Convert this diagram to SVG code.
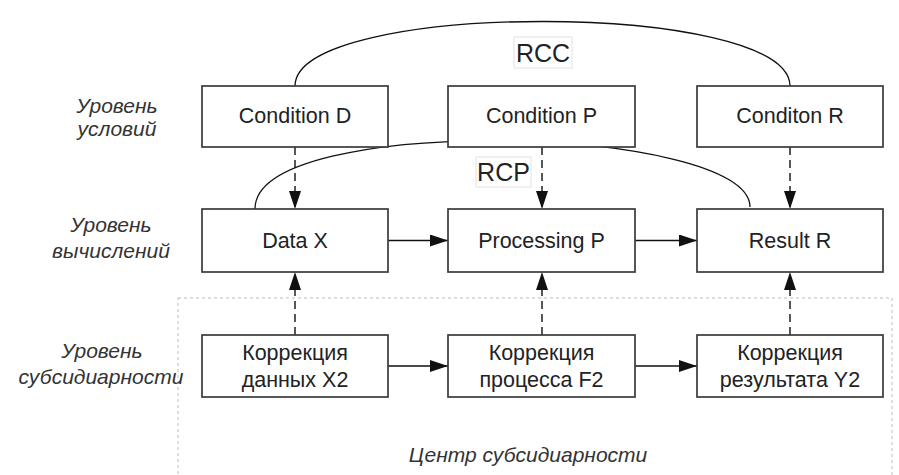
<svg xmlns="http://www.w3.org/2000/svg" width="899" height="475" viewBox="0 0 899 475">
<style>
.box{fill:#fff;stroke:#3a3a3a;stroke-width:1.7}
.nt{font-family:"Liberation Sans",Arial,sans-serif;font-size:21.5px;fill:#222;text-anchor:middle}
.lv{font-family:"Liberation Sans",Arial,sans-serif;font-size:21px;font-style:italic;fill:#333;text-anchor:middle}
.lb{font-family:"Liberation Sans",Arial,sans-serif;font-size:25px;fill:#222;text-anchor:middle}
.solid{fill:none;stroke:#111;stroke-width:1.4}
.dash{fill:none;stroke:#111;stroke-width:1.4;stroke-dasharray:8 5}
.arc{fill:none;stroke:#111;stroke-width:1.3}
.lbg{fill:#fff;stroke:#e2e2e2;stroke-width:1}
</style>
<defs>
<marker id="ah" viewBox="0 0 18 12" refX="18" refY="6" markerWidth="18" markerHeight="12" markerUnits="userSpaceOnUse" orient="auto">
<path d="M0,0 L18,6 L0,12 Z" fill="#111"/>
</marker>
</defs>
<rect x="178" y="298" width="714" height="190" fill="none" stroke="#bdbdbd" stroke-width="1" stroke-dasharray="3 3"/>
<g id="levels">
<text class="lv" x="117" y="113">Уровень</text>
<text class="lv" x="117" y="136">условий</text>
<text class="lv" x="111" y="232">Уровень</text>
<text class="lv" x="111" y="258">вычислений</text>
<text class="lv" x="102" y="358">Уровень</text>
<text class="lv" x="101" y="384">субсидиарности</text>
<text class="lv" x="528" y="462">Центр субсидиарности</text>
</g>
<g id="connectors">
<path class="arc" d="M295,86 C295,0 790,0 790,86"/>
<path class="arc" d="M255,209 C255,112 750,125 750,207"/>
<path class="dash" d="M295,147 L295,209" marker-end="url(#ah)"/>
<path class="dash" d="M542,147 L542,209" marker-end="url(#ah)"/>
<path class="dash" d="M790,147 L790,209" marker-end="url(#ah)"/>
<path class="solid" d="M388,240.5 L448,240.5" marker-end="url(#ah)"/>
<path class="solid" d="M635,240.5 L697,240.5" marker-end="url(#ah)"/>
<path class="dash" d="M295,335 L295,272" marker-end="url(#ah)"/>
<path class="dash" d="M542,335 L542,272" marker-end="url(#ah)"/>
<path class="dash" d="M790,335 L790,272" marker-end="url(#ah)"/>
<path class="solid" d="M388,366 L448,366" marker-end="url(#ah)"/>
<path class="solid" d="M635,366 L697,366" marker-end="url(#ah)"/>
</g>
<g id="rcc">
<rect class="lbg" x="514" y="37" width="58" height="31"/>
<text class="lb" x="543" y="62">RCC</text>
</g>
<g id="rcp">
<rect class="lbg" x="476" y="157" width="55" height="30"/>
<text class="lb" x="503.5" y="181">RCP</text>
</g>
<g id="condD"><rect class="box" x="202" y="86" width="186" height="61"/><text class="nt" x="295" y="123">Condition D</text></g>
<g id="condP"><rect class="box" x="448" y="86" width="187" height="61"/><text class="nt" x="541.5" y="123">Condition P</text></g>
<g id="condR"><rect class="box" x="697" y="86" width="186" height="61"/><text class="nt" x="790" y="123">Conditon R</text></g>
<g id="dataX"><rect class="box" x="202" y="209" width="186" height="63"/><text class="nt" x="295" y="248">Data X</text></g>
<g id="procP"><rect class="box" x="448" y="209" width="187" height="63"/><text class="nt" x="541.5" y="248">Processing P</text></g>
<g id="resR"><rect class="box" x="697" y="209" width="186" height="63"/><text class="nt" x="790" y="248">Result R</text></g>
<g id="corrX"><rect class="box" x="202" y="335" width="186" height="62"/><text class="nt" x="295" y="360">Коррекция</text><text class="nt" x="295" y="387">данных X2</text></g>
<g id="corrF"><rect class="box" x="448" y="335" width="187" height="62"/><text class="nt" x="541.5" y="360">Коррекция</text><text class="nt" x="541.5" y="387">процесса F2</text></g>
<g id="corrY"><rect class="box" x="697" y="335" width="186" height="62"/><text class="nt" x="790" y="360">Коррекция</text><text class="nt" x="790" y="387">результата Y2</text></g>
</svg>
